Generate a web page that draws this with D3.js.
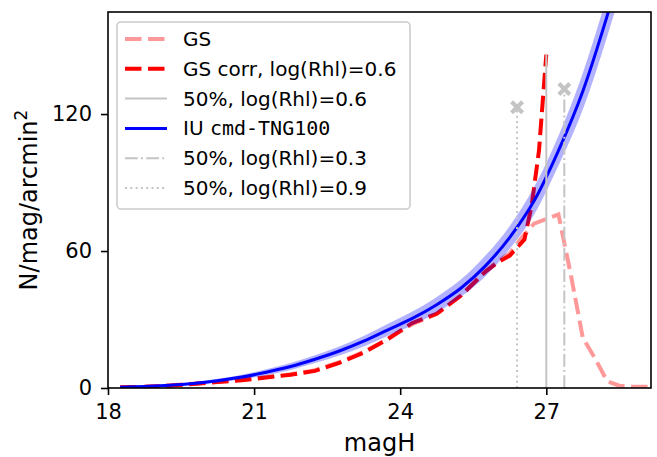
<!DOCTYPE html>
<html>
<head>
<meta charset="utf-8">
<script src="https://cdn.jsdelivr.net/npm/d3@7"></script>
<style>
  body { margin: 0; background: #fff; }
  svg { display: block; font-family: "DejaVu Sans", sans-serif; }
</style>
</head>
<body>
<svg id="chart" width="657" height="457"></svg>
<script>
// GS raw counts
const gsMag = [18.25, 18.75, 19.25, 19.75, 20.25, 20.75, 21.25, 21.75, 22.25, 22.75, 23.25, 23.75, 24.25, 24.75, 25.25, 25.75, 26.0, 26.25, 26.5, 26.75, 27.0, 27.25, 27.5, 27.75, 28.0, 28.25, 28.5, 28.75, 29.0, 29.25];
const gsN = [0.3, 0.5, 1.1, 1.9, 2.7, 3.6, 4.8, 6.0, 7.8, 11.3, 15.8, 21.5, 28.0, 32.5, 40.5, 51.0, 55.5, 59.0, 66.0, 72.0, 74.0, 76.0, 50.0, 22.0, 13.0, 3.0, 1.0, 0.7, 0.6, 0.6];

// GS corrected, log(Rhl)=0.6
const corrMag = [18.25, 18.75, 19.25, 19.75, 20.25, 20.75, 21.25, 21.75, 22.25, 22.75, 23.25, 23.75, 24.25, 24.75, 25.25, 25.75, 26.0, 26.25, 26.55, 26.7, 26.85, 27.0];
const corrN = [0.3, 0.5, 1.0, 1.8, 2.6, 3.4, 4.6, 5.8, 7.5, 11.0, 15.5, 21.5, 28.5, 32.5, 40.5, 51.0, 55.0, 58.0, 65.0, 80.0, 104.0, 146.0];

// IU cmd-TNG100 with its band
const iuMag = [18.25, 18.75, 19.25, 19.75, 20.25, 20.75, 21.25, 21.75, 22.25, 22.75, 23.25, 23.75, 24.25, 24.75, 25.25, 25.75, 26.25, 26.75, 27.25, 27.75, 28.25, 28.75];
const iuN = [0.3, 0.7, 1.2, 2.0, 3.2, 4.8, 6.9, 9.4, 12.6, 16.2, 20.5, 25.5, 30.5, 36.5, 43.8, 53.5, 66.0, 82.0, 104.0, 130.0, 163.0, 200.0];
const iuLow = [0.1, 0.4, 0.8, 1.4, 2.4, 3.8, 5.6, 7.9, 10.9, 14.2, 18.2, 22.9, 27.5, 33.1, 40.0, 49.0, 61.0, 76.0, 97.5, 122.0, 154.0, 190.0];
const iuHigh = [0.5, 1.0, 1.6, 2.6, 4.0, 5.8, 8.2, 10.9, 14.3, 18.2, 22.8, 28.1, 33.5, 39.9, 47.6, 58.0, 71.0, 88.0, 110.5, 138.0, 172.0, 210.0];

// 50% completeness limits
const limMag = [27.0, 27.37, 26.4];
const limTop = [146, 131, 123];
const limStyle = ["solid", "dashdot", "dotted"];

const xTicks = [18, 21, 24, 27];
const yTicks = [0, 60, 120];

const legendLabels = ["GS", "GS corr, log(Rhl)=0.6", "50%, log(Rhl)=0.6", "IU cmd-TNG100", "50%, log(Rhl)=0.3", "50%, log(Rhl)=0.9"];

const svg = d3.select("#chart");
const mLeft = 108, mRight = 651, mTop = 12, mBottom = 388;

const x = d3.scaleLinear().domain([18, 29.15]).range([mLeft, mRight]);
const y = d3.scaleLinear().domain([0, 164.7]).range([mBottom, mTop]);

const gray = "#c4c4c4";
const dashes = {
  solid: null,
  dashed: "16.5,6.5",
  dashdot: "12.8,3.2,2,3.2",
  dotted: "2,3.3"
};

svg.append("defs").append("clipPath").attr("id", "clip")
  .append("rect").attr("x", mLeft).attr("y", mTop).attr("width", mRight - mLeft).attr("height", mBottom - mTop);

const plot = svg.append("g").attr("clip-path", "url(#clip)");

const line = d3.line().x(d => x(d[0])).y(d => y(d[1]));
const smooth = d3.line().x(d => x(d[0])).y(d => y(d[1])).curve(d3.curveMonotoneX);

// GS
plot.append("path")
  .attr("d", line(d3.zip(gsMag, gsN)))
  .attr("fill", "none").attr("stroke", "#ff9999")
  .attr("stroke-width", 4).attr("stroke-dasharray", dashes.dashed);

// GS corr
plot.append("path")
  .attr("d", line(d3.zip(corrMag, corrN)))
  .attr("fill", "none").attr("stroke", "#ff0000")
  .attr("stroke-width", 4).attr("stroke-dasharray", dashes.dashed);

// IU band + line
const band = d3.area().x(d => x(d[0])).y0(d => y(d[1])).y1(d => y(d[2])).curve(d3.curveMonotoneX);
plot.append("path")
  .attr("d", band(d3.zip(iuMag, iuLow, iuHigh)))
  .attr("fill", "#0000ff").attr("fill-opacity", 0.3);
plot.append("path")
  .attr("d", smooth(d3.zip(iuMag, iuN)))
  .attr("fill", "none").attr("stroke", "#0000ff").attr("stroke-width", 3);

// completeness lines
limMag.forEach((m, i) => {
  plot.append("line")
    .attr("x1", x(m)).attr("x2", x(m))
    .attr("y1", y(0)).attr("y2", y(limTop[i]))
    .attr("stroke", gray).attr("stroke-width", 2)
    .attr("stroke-dasharray", dashes[limStyle[i]]);
  if (limStyle[i] !== "solid") {
    plot.append("path")
      .attr("transform", `translate(${x(m)},${y(limTop[i])})`)
      .attr("d", d3.symbol(d3.symbolX, 80)())
      .attr("fill", "none").attr("stroke", gray).attr("stroke-width", 4.2);
  }
});

// axes
const xAxis = svg.append("g").attr("transform", `translate(0,${mBottom})`)
  .call(d3.axisBottom(x).tickValues(xTicks).tickSize(7).tickPadding(9));
const yAxis = svg.append("g").attr("transform", `translate(${mLeft},0)`)
  .call(d3.axisLeft(y).tickValues(yTicks).tickSize(7).tickPadding(9));
[xAxis, yAxis].forEach(a => {
  a.select(".domain").remove();
  a.selectAll("line").attr("stroke", "#000").attr("stroke-width", 1.6);
  a.selectAll("text").attr("font-size", 21).attr("font-family", "DejaVu Sans").attr("fill", "#000");
});

svg.append("rect")
  .attr("x", mLeft).attr("y", mTop).attr("width", mRight - mLeft).attr("height", mBottom - mTop)
  .attr("fill", "none").attr("stroke", "#000").attr("stroke-width", 1.6);

svg.append("text")
  .attr("x", (mLeft + mRight) / 2).attr("y", 451)
  .attr("text-anchor", "middle").attr("font-size", 24)
  .text("magH");

const yl = svg.append("text")
  .attr("transform", `translate(37,${(mTop + mBottom) / 2}) rotate(-90)`)
  .attr("text-anchor", "middle").attr("font-size", 24);
yl.append("tspan").text("N/mag/arcmin");
yl.append("tspan").attr("dy", -10).attr("font-size", 17).text("2");

// legend
const lg = svg.append("g");
lg.append("rect")
  .attr("x", 117).attr("y", 22).attr("width", 293).attr("height", 187)
  .attr("rx", 4).attr("fill", "#fff").attr("fill-opacity", 0.8)
  .attr("stroke", "#cccccc").attr("stroke-width", 1.6);

const legendStyle = [
  { c: "#ff9999", w: 4, d: dashes.dashed },
  { c: "#ff0000", w: 4, d: dashes.dashed },
  { c: gray, w: 2, d: null },
  { c: "#0000ff", w: 3, d: null },
  { c: gray, w: 2, d: dashes.dashdot },
  { c: gray, w: 2, d: dashes.dotted }
];

legendLabels.forEach((lab, i) => {
  const yy = 39 + i * 29.8;
  const s = legendStyle[i];
  lg.append("line")
    .attr("x1", 125).attr("x2", 167).attr("y1", yy).attr("y2", yy)
    .attr("stroke", s.c).attr("stroke-width", s.w)
    .attr("stroke-dasharray", s.d);
  const t = lg.append("text").attr("x", 183).attr("y", yy + 7).attr("font-size", 20);
  if (lab.startsWith("IU ")) {
    t.append("tspan").text("IU ");
    t.append("tspan").attr("font-family", "DejaVu Sans Mono").text(lab.slice(3));
  } else {
    t.text(lab);
  }
});
</script>
</body>
</html>
